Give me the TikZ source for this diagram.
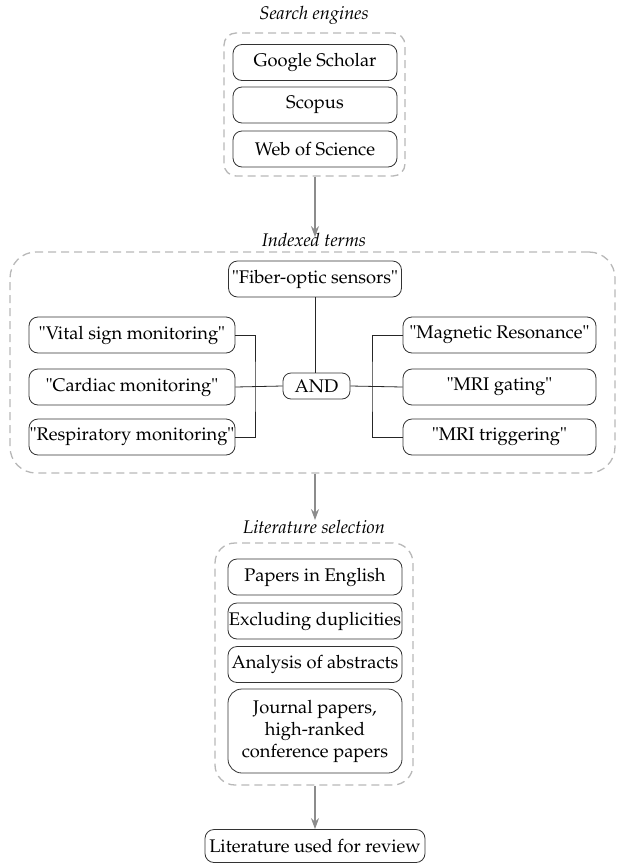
\documentclass[tikz,border=0pt]{standalone}
\usepackage[T1]{fontenc}
\usepackage{mathpazo}
\usetikzlibrary{arrows.meta}
\begin{document}
\begin{tikzpicture}[x=1pt,y=-1pt,
  every node/.style={font=\fontsize{18.3}{22}\selectfont},
  box/.style={draw=black!80, line width=0.8pt, rounded corners=9pt, inner sep=0pt, minimum height=36pt},
  grp/.style={draw=black!28, dashed, dash pattern=on 8pt off 5pt, line width=1.3pt, inner sep=0pt},
  ttl/.style={font=\fontsize{18.3}{22}\selectfont\itshape, inner sep=2pt},
  arr/.style={draw=black!45, line width=1.4pt, -{Stealth[length=11pt,width=8pt]}},
  lnk/.style={draw=black!85, line width=0.8pt}]
\useasboundingbox (0,0) rectangle (619,865);
% group 1
\node[ttl] (t1) at (314,15) {Search engines};
\node[grp, rounded corners=12pt, minimum width=181pt, minimum height=143pt] (g1) at (314.5,104.5) {};
\node[box, minimum width=164pt] (gs) at (315,62.5) {Google Scholar};
\node[box, minimum width=164pt] (sc) at (315,105) {Scopus};
\node[box, minimum width=164pt] (wos) at (315,149) {Web of Science};
% group 2
\node[ttl] (t2) at (314,240) {Indexed terms};
\node[grp, rounded corners=26pt, minimum width=605pt, minimum height=221pt] (g2) at (312.5,362.5) {};
\node[box, minimum width=173pt] (fib) at (315,279) {"Fiber-optic sensors"};
\node[box, minimum width=206pt] (vit) at (132,335) {"Vital sign monitoring"};
\node[box, minimum width=206pt] (car) at (132,387) {"Cardiac monitoring"};
\node[box, minimum width=206pt] (res) at (132,437) {"Respiratory monitoring"};
\node[box, minimum width=67pt, minimum height=26pt, rounded corners=8pt] (and) at (316.5,386) {AND};
\node[box, minimum width=193pt] (mag) at (499.5,335) {"Magnetic Resonance"};
\node[box, minimum width=193pt] (gat) at (499.5,387) {"MRI gating"};
\node[box, minimum width=193pt] (trg) at (499.5,437) {"MRI triggering"};
\coordinate (lb) at (255,387);
\coordinate (rb) at (372,387);
\draw[lnk] (fib.south) -- (fib.south |- and.north);
\draw[lnk] (vit.east) -| (lb) |- (res.east);
\draw[lnk] (car.east) -- (and.west);
\draw[lnk] (and.east) -- (gat.west);
\draw[lnk] (mag.west) -| (rb) |- (trg.west);
% group 3
\node[ttl] (t3) at (314,527) {Literature selection};
\node[grp, rounded corners=20pt, minimum width=198pt, minimum height=242pt] (g3) at (314,664) {};
\node[box, minimum width=174pt] (eng) at (315,577) {Papers in English};
\node[box, minimum width=174pt] (dup) at (315,621) {Excluding duplicities};
\node[box, minimum width=174pt] (abs) at (315,664.5) {Analysis of abstracts};
\node[box, minimum width=174pt, minimum height=84pt, rounded corners=14pt, align=center] (jou) at (315,731) {Journal papers,\\high-ranked\\conference papers};
% final
\node[box, minimum width=220pt, minimum height=33pt] (fin) at (315,846) {Literature used for review};
% arrows
\draw[arr] (g1.south -| 315,0) -- ([yshift=-6pt]t2.north -| 315,0);
\draw[arr] (g2.south -| 315,0) -- ([yshift=-2pt]t3.north -| 315,0);
\draw[arr] (g3.south -| 315,0) -- (fin.north);
\end{tikzpicture}
\end{document}
